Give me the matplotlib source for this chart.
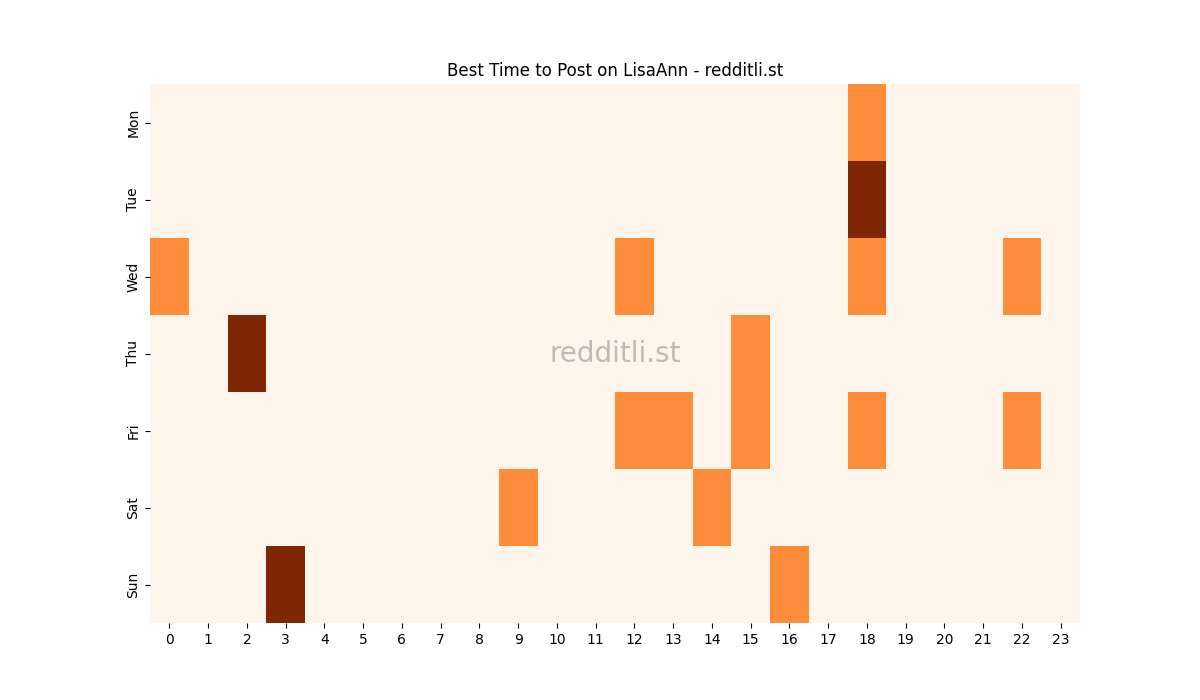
import numpy as np
import matplotlib
matplotlib.use("Agg")
import matplotlib.pyplot as plt
import seaborn as sns

days = ["Mon", "Tue", "Wed", "Thu", "Fri", "Sat", "Sun"]
hours = [str(h) for h in range(24)]

mon = {18: 1}
tue = {18: 2}
wed = {0: 1, 12: 1, 18: 1, 22: 1}
thu = {2: 2, 15: 1}
fri = {12: 1, 13: 1, 15: 1, 18: 1, 22: 1}
sat = {9: 1, 14: 1}
sun = {3: 2, 16: 1}
rows = [mon, tue, wed, thu, fri, sat, sun]

data = np.zeros((len(days), len(hours)))
for i, r in enumerate(rows):
    for h, v in r.items():
        data[i, h] = v

fig, ax = plt.subplots(figsize=(12, 7), dpi=100)
sns.heatmap(data, cmap="Oranges", cbar=False, xticklabels=hours, yticklabels=days, ax=ax)
ax.set_title("Best Time to Post on LisaAnn - redditli.st")
ax.text(0.5, 0.5, "redditli.st", transform=ax.transAxes, ha="center", va="center",
        fontsize=20, color="gray", alpha=0.5)
plt.setp(ax.get_yticklabels(), rotation=90, va="center")
plt.setp(ax.get_xticklabels(), rotation=0)
fig.savefig("out.png")
